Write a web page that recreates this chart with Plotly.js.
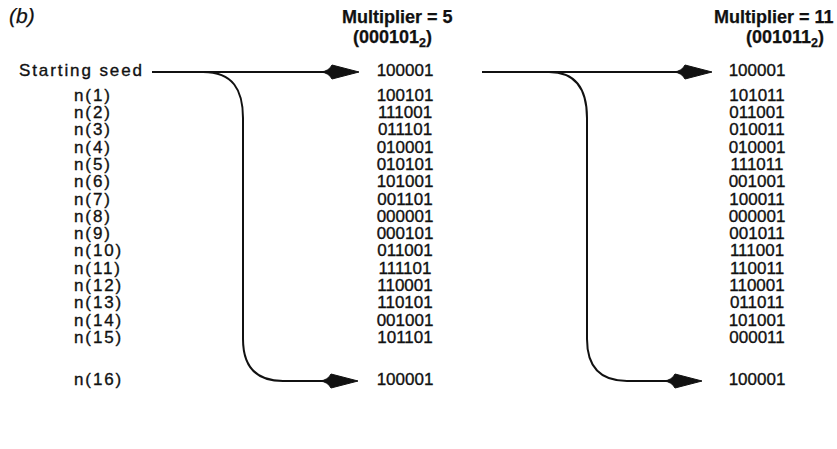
<!DOCTYPE html>
<html>
<head>
<meta charset="utf-8">
<script src="https://cdn.plot.ly/plotly-3.0.1.min.js"></script>
<style>
html,body{margin:0;padding:0;background:#fff;}
.scatterlayer .trace:first-child .textpoint text{letter-spacing:1.9px;}
.scatterlayer .textpoint text{stroke:#111;stroke-width:0.35px;}
.annotation-text{stroke:#111;stroke-width:0.25px;}
</style>
</head>
<body>
<div id="chart" style="width:837px;height:449px;"></div>
<script>
// ---- data ----
const rowLabels = ["Starting seed","n(1)","n(2)","n(3)","n(4)","n(5)","n(6)","n(7)","n(8)","n(9)","n(10)","n(11)","n(12)","n(13)","n(14)","n(15)","n(16)"];
const mult5Values = ["100001","100101","111001","011101","010001","010101","101001","001101","000001","000101","011001","111101","110001","110101","001001","101101","100001"];
const mult11Values = ["100001","101011","011001","010011","010001","111011","001001","100011","000001","001011","111001","110011","110001","011011","101001","000011","100001"];
const headerTitles = ["Multiplier = 5","Multiplier = 11"];
const headerBinary = ["(000101<sub>2</sub>)","(001011<sub>2</sub>)"];
const panelTag = "(b)";

// ---- layout helpers (pixel-like axis units) ----
function rowY(i){
  if(i===0) return 72;
  if(i===16) return 381;
  return 96.5 + (i-1)*17.3;
}
const ys = rowLabels.map((_,i)=>rowY(i));
const labelX = rowLabels.map((_,i)=> i===0 ? 19 : 74);
const col1X = 405, col2X = 757;
const ink = "#111";
const font = {family:"Liberation Sans, Arial, sans-serif", size:17, color:ink};

const traces = [
  {type:"scatter", mode:"text", x:labelX, y:ys, text:rowLabels, textposition:"middle right", textfont:font, hoverinfo:"skip"},
  {type:"scatter", mode:"text", x:mult5Values.map(()=>col1X), y:ys, text:mult5Values, textposition:"middle center", textfont:font, hoverinfo:"skip"},
  {type:"scatter", mode:"text", x:mult11Values.map(()=>col2X), y:ys, text:mult11Values, textposition:"middle center", textfont:font, hoverinfo:"skip"}
];

const bold = {family:"Liberation Sans, Arial, sans-serif", size:18, color:ink, weight:"bold"};
const annotations = [
  {x:7, y:15, text:"<i>"+panelTag+"</i>", showarrow:false, xanchor:"left", yanchor:"middle", font:{family:"Liberation Sans, Arial, sans-serif", size:21, color:ink}},
  {x:397, y:17, text:"<b>"+headerTitles[0]+"</b>", showarrow:false, xanchor:"center", yanchor:"middle", font:bold},
  {x:392, y:38, text:"<b>"+headerBinary[0]+"</b>", showarrow:false, xanchor:"center", yanchor:"middle", font:bold},
  {x:836, y:17, text:"<b>"+headerTitles[1]+"</b>", showarrow:false, xanchor:"right", yanchor:"middle", font:bold},
  {x:785, y:38, text:"<b>"+headerBinary[1]+"</b>", showarrow:false, xanchor:"center", yanchor:"middle", font:bold}
];

// connector geometry
function arrowHead(tipX, y){
  return `M ${tipX-38} ${y} Q ${tipX-30} ${y-1} ${tipX-27} ${y-7} L ${tipX} ${y} L ${tipX-27} ${y+7} Q ${tipX-30} ${y+1} ${tipX-38} ${y} Z`;
}
const lineStyle = {color:ink, width:2};
function connector(lineStart, tip, branchX, vertX, yTop, yBot, tipBot){
  return [
    {type:"path", path:`M ${lineStart} ${yTop} L ${tip-30} ${yTop}`, line:lineStyle},
    {type:"path", path:arrowHead(tip, yTop), fillcolor:ink, line:{color:ink,width:1}},
    {type:"path", path:`M ${branchX} ${yTop} C ${vertX-10} ${yTop} ${vertX} ${yTop+18} ${vertX} ${yTop+46} L ${vertX} ${yBot-42} C ${vertX} ${yBot-14} ${vertX+14} ${yBot} ${vertX+40} ${yBot} L ${tipBot-30} ${yBot}`, line:lineStyle},
    {type:"path", path:arrowHead(tipBot, yBot), fillcolor:ink, line:{color:ink,width:1}}
  ];
}
const shapes = [
  ...connector(152, 359, 203, 243, ys[0], ys[16], 358),
  ...connector(482, 712, 549, 587, ys[0], ys[16], 702)
].map(s=>Object.assign({xref:"x", yref:"y", layer:"above"}, s));

const layout = {
  width:837, height:449,
  margin:{l:0,r:0,t:0,b:0},
  paper_bgcolor:"#fff", plot_bgcolor:"#fff",
  showlegend:false,
  xaxis:{range:[0,837], visible:false, fixedrange:true},
  yaxis:{range:[449,0], visible:false, fixedrange:true},
  annotations, shapes
};
Plotly.newPlot("chart", traces, layout, {staticPlot:true, displayModeBar:false});
</script>
</body>
</html>
